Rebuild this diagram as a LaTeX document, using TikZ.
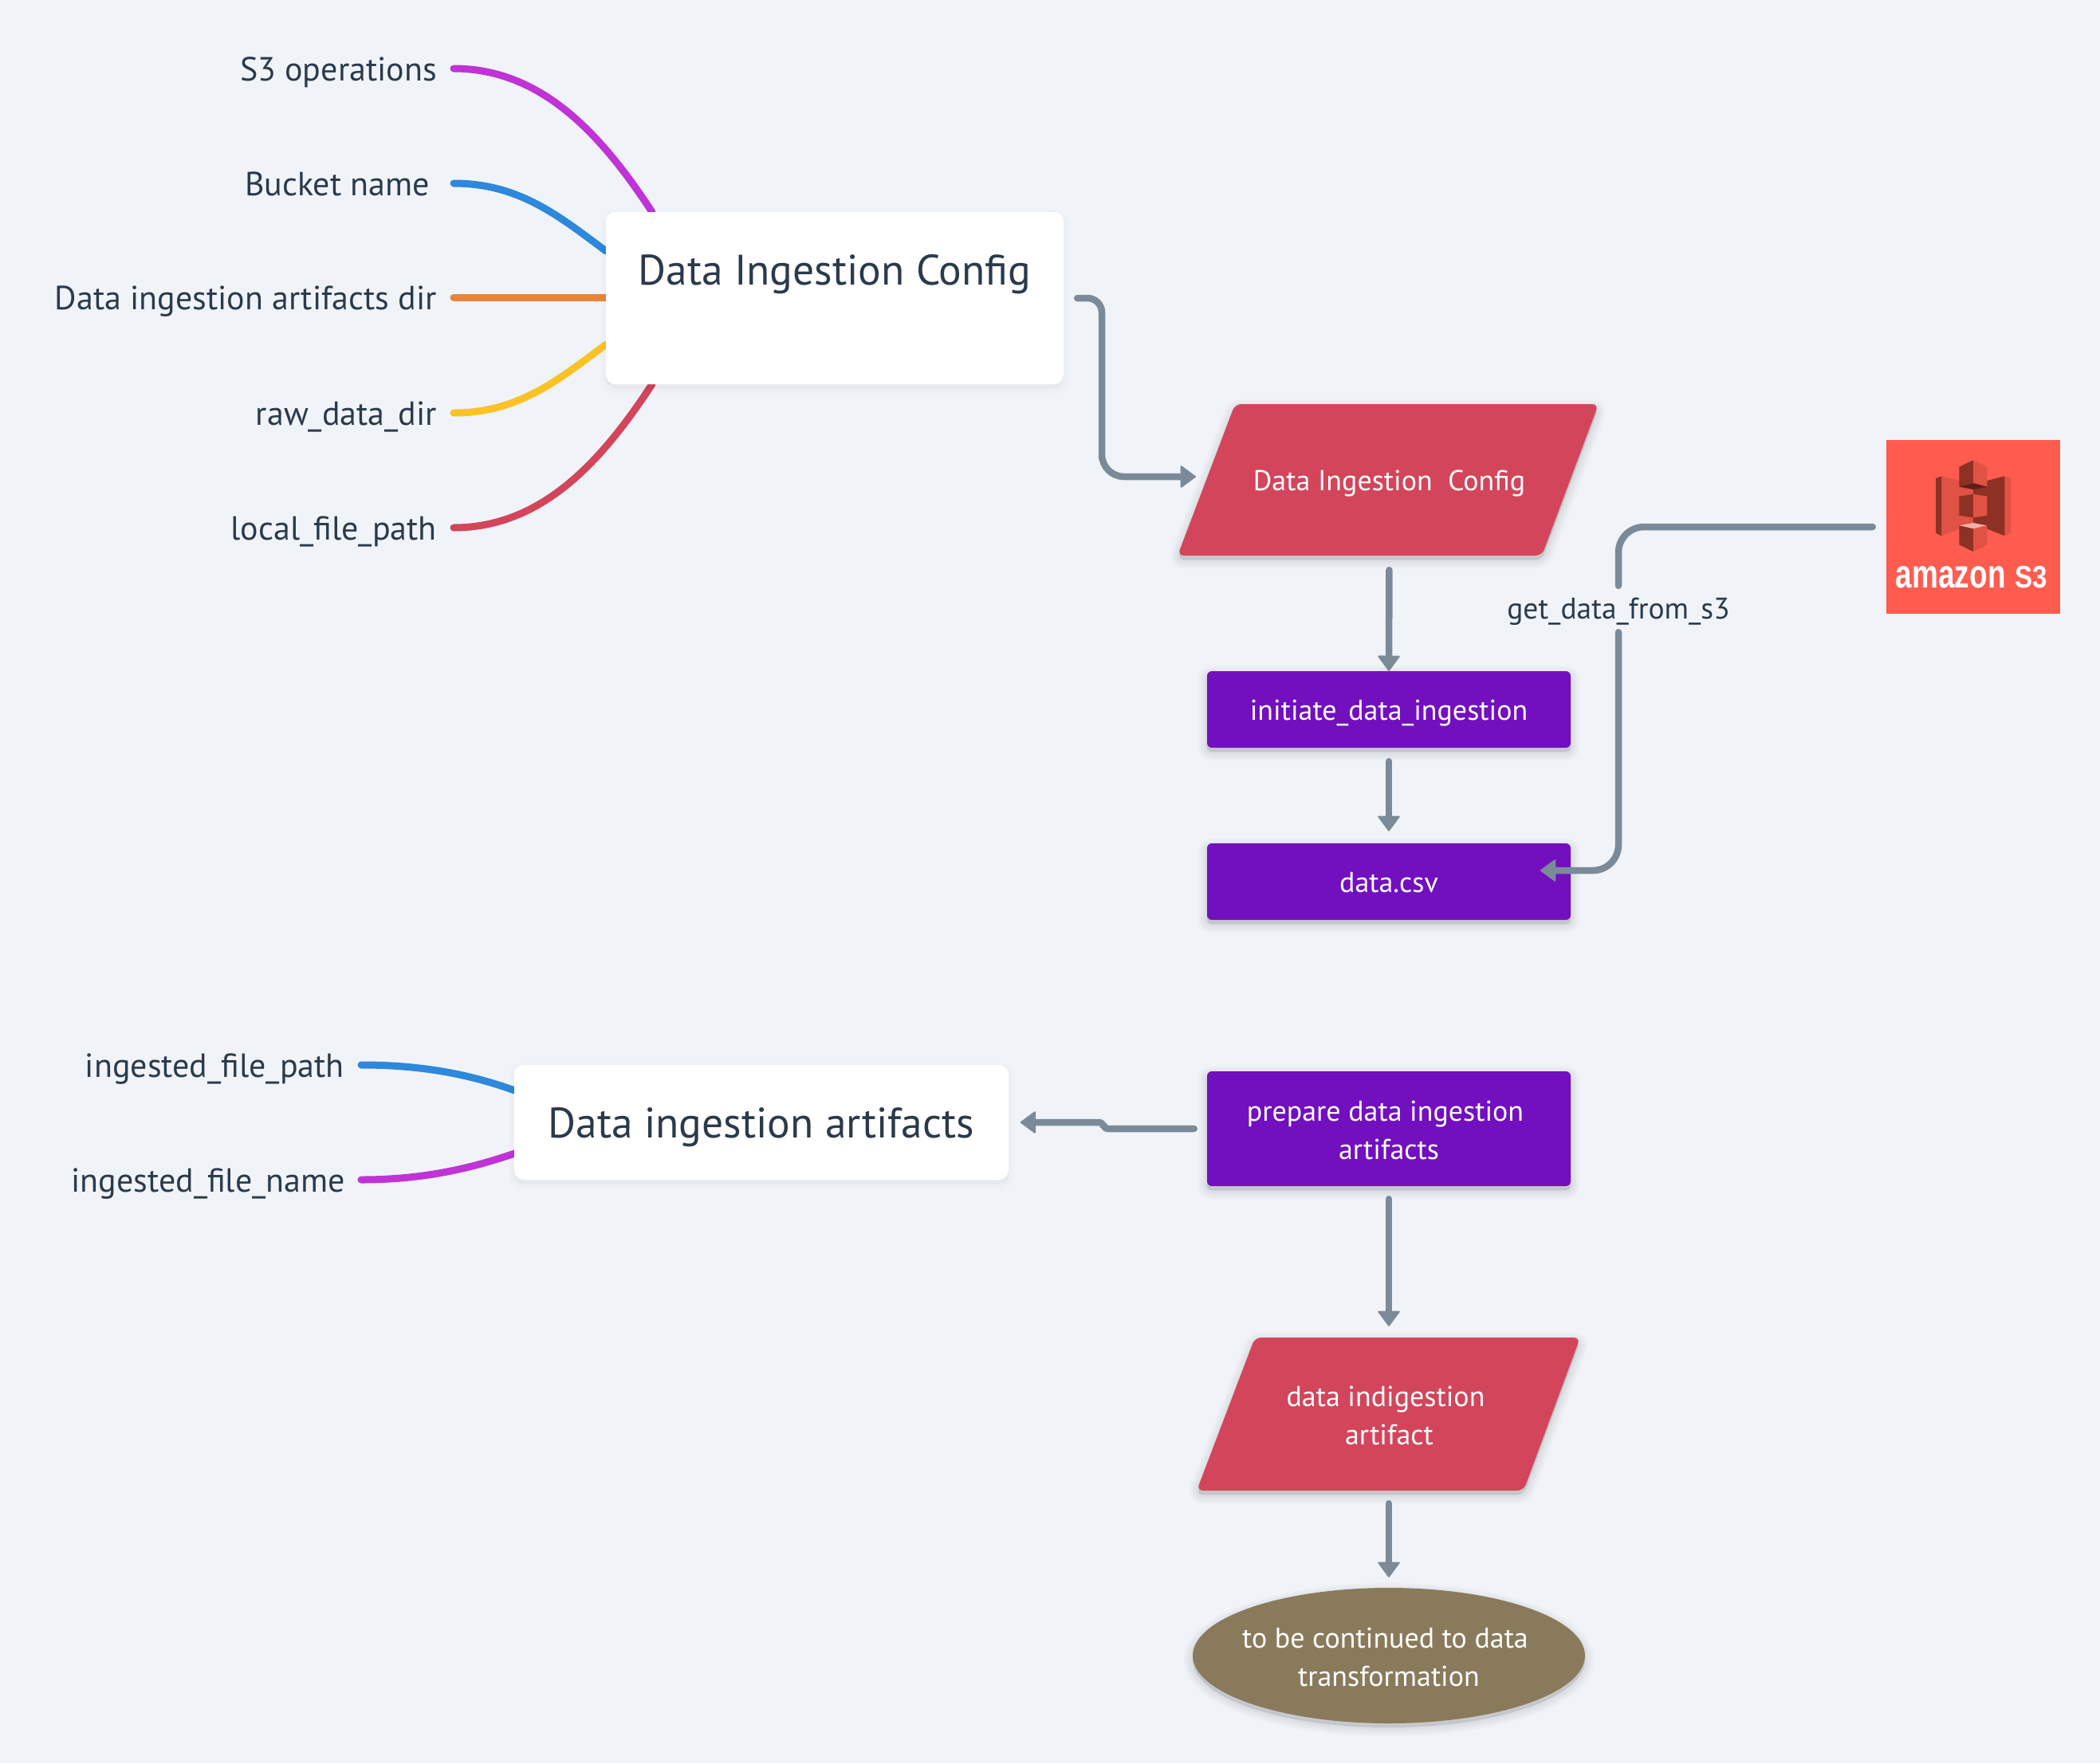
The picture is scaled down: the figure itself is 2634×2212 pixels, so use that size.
\documentclass[tikz,border=0pt]{standalone}
\usepackage{fontspec}
\usepackage{graphicx}
\setmainfont{PT Sans}
\usetikzlibrary{arrows.meta,shapes.geometric,calc}
\pgfdeclarelayer{bglayer}
\pgfdeclarelayer{branchlayer}
\pgfsetlayers{bglayer,branchlayer,main}
\definecolor{bgc}{HTML}{F0F4F8}
\definecolor{inkc}{HTML}{2B3A4B}
\definecolor{linec}{HTML}{7B8A99}
\definecolor{purpc}{HTML}{720FBF}
\definecolor{redc}{HTML}{D3455B}
\definecolor{brownc}{HTML}{8A7A5C}
\definecolor{s3c}{HTML}{FF5C50}
\definecolor{sDark}{HTML}{8C3123}
\definecolor{sLight}{HTML}{E05243}
\definecolor{sDeep}{HTML}{5E1F18}
\definecolor{sPale}{HTML}{F2B0A9}
\definecolor{mPurple}{HTML}{C033D6}
\definecolor{mBlue}{HTML}{2E88DC}
\definecolor{mOrange}{HTML}{E8853B}
\definecolor{mYellow}{HTML}{F9C328}
\tikzset{
  shadowlayer/.style n args={2}{preaction={draw=black,fill=black,opacity=#2,line width=#1,transform canvas={yshift=-5pt}}},
  softshadow/.style={shadowlayer={22pt}{.018},shadowlayer={17pt}{.018},shadowlayer={12pt}{.018},shadowlayer={7pt}{.018},shadowlayer={2pt}{.018}},
  faintshadow/.style={shadowlayer={16pt}{.007},shadowlayer={10pt}{.007},shadowlayer={4pt}{.007}},
  topicbox/.style={fill=white,rounded corners=12pt,inner sep=0pt,text=inkc,font=\fontsize{53.5}{60}\selectfont,faintshadow},
  leaflabel/.style={anchor=east,text=inkc,inner sep=0pt,text height=36pt,text depth=6pt,font=\fontsize{42}{46}\selectfont},
  procbox/.style={fill=purpc,rounded corners=6pt,inner sep=0pt,minimum width=456pt,text=white,align=center,font=\fontsize{36}{48}\selectfont,softshadow},
  oneline/.style={text height=33pt,text depth=6pt},
  ioshape/.style={fill=redc,rounded corners=8pt,softshadow},
  iotext/.style={inner sep=0pt,text=white,align=center,font=\fontsize{36}{48}\selectfont},
  endshape/.style={fill=brownc,softshadow},
  linklabel/.style={text=inkc,inner sep=0pt,text height=30pt,text depth=6pt,minimum height=58pt,font=\fontsize{37.5}{40}\selectfont},
  branch/.style={line width=9pt,line cap=round},
  flow/.style={line width=8.5pt,linec,line cap=round,rounded corners=32pt},
  flowtip/.style={flow,-{Triangle[width=29pt,length=20pt,line width=2pt,round]}},
}
\begin{document}
\begin{tikzpicture}[x=1pt,y=-1pt]
\useasboundingbox (0,0) rectangle (2634,2212);
\begin{pgfonlayer}{bglayer}
\fill[bgc] (0,0) rectangle (2634,2212);
\end{pgfonlayer}

% free ends of the branches
\coordinate (b1) at (569,86);
\coordinate (b2) at (569,230);
\coordinate (b3) at (569,373);
\coordinate (b4) at (569,518);
\coordinate (b5) at (569,662);
\coordinate (c1) at (453,1336);
\coordinate (c2) at (453,1480);

% labels
\node[leaflabel] (l1) at (548,86) {S3 operations};
\node[leaflabel] (l2) at (539,230) {Bucket name};
\node[leaflabel] (l3) at (548,373) {Data ingestion artifacts dir};
\node[leaflabel] (l4) at (548,518) {raw\_data\_dir};
\node[leaflabel] (l5) at (548,662) {local\_file\_path};
\node[leaflabel] (l6) at (432,1336) {ingested\_file\_path};
\node[leaflabel] (l7) at (433,1480) {ingested\_file\_name};

% topic boxes
\node[topicbox,minimum width=574pt,minimum height=216pt] (cfg) at (1047,374) {};
\node[inner sep=0pt,text=inkc,text height=41pt,text depth=6pt,font=\fontsize{53.5}{60}\selectfont] (cfgt) at (1047,340) {Data Ingestion Config};
\node[topicbox,minimum width=620pt,minimum height=144pt,text height=44pt,text depth=6pt] (art) at (955,1408) {Data ingestion artifacts};

% branches (run under the topic boxes)
\begin{pgfonlayer}{branchlayer}
\draw[branch,mPurple] (b1) .. controls (680,86) and (755,170) .. ($(cfg.north west)+(58,0)$);
\draw[branch,mBlue] (b2) .. controls (650,230) and (700,270) .. ($(cfg.north west)+(0,49)$);
\draw[branch,mOrange] (b3) -- (b3 -| cfg.west);
\draw[branch,mYellow] (b4) .. controls (650,518) and (700,477) .. ($(cfg.south west)+(0,-50)$);
\draw[branch,redc] (b5) .. controls (680,662) and (755,578) .. ($(cfg.south west)+(58,0)$);
\draw[branch,mBlue] (c1) .. controls (530,1336) and (590,1348) .. ($(art.north west)+(0,32)$);
\draw[branch,mPurple] (c2) .. controls (530,1480) and (590,1466) .. ($(art.south west)+(0,-33)$);
\end{pgfonlayer}

% flow shapes
\path[ioshape] (1549,507) -- (2005,507) -- (1934,697) -- (1477,697) -- cycle;
\node[iotext,oneline,minimum width=525pt,minimum height=190pt] (p1) at (1742.5,602) {Data Ingestion\ \ Config};
\node[procbox,oneline,minimum height=96pt] (init) at (1742,890) {initiate\_data\_ingestion};
\node[procbox,oneline,minimum height=96pt] (csv) at (1742,1106) {data.csv};
\node[procbox,minimum height=144pt] (prep) at (1742,1416) {\rule{0pt}{30pt}prepare data ingestion\kern9pt\\artifacts};
\path[ioshape] (1574,1678) -- (1982,1678) -- (1911,1870) -- (1501,1870) -- cycle;
\node[iotext,minimum width=477pt,minimum height=192pt] (p2) at (1742.5,1774) {\rule{0pt}{30pt}data indigestion\kern9pt\\artifact};
\path[endshape] (1742,2077) ellipse [x radius=246pt,y radius=85pt];
\node[iotext,minimum width=492pt,minimum height=170pt] (end) at (1742,2077) {\rule{0pt}{30pt}to be continued to data\kern9pt\\transformation};

% S3 tile
\node[fill=s3c,inner sep=0pt,minimum width=218pt,minimum height=218pt] (s3) at (2475,661) {};
\begin{scope}[shift={(2300,520)},x=0.3333pt,y=-0.3333pt]
  \fill[sLight] (406,232) -- (525,262) -- (525,410) -- (406,457) -- cycle;
  \fill[sDark] (525,262) -- (644,232) -- (644,457) -- (525,410) -- cycle;
  \fill[sDark] (384,240) -- (406,232) -- (406,457) -- (384,446) -- cycle;
  \fill[sLight] (644,232) -- (666,240) -- (666,446) -- (644,457) -- cycle;
  \fill[sDark] (472,197) -- (525,172) -- (525,258) -- (472,272) -- cycle;
  \fill[sLight] (525,172) -- (577,197) -- (577,272) -- (525,258) -- cycle;
  \fill[sDeep] (472,272) -- (525,258) -- (577,272) -- (525,282) -- cycle;
  \fill[sDark] (472,308) -- (525,300) -- (525,388) -- (472,380) -- cycle;
  \fill[sLight] (525,300) -- (577,308) -- (577,380) -- (525,388) -- cycle;
  \fill[sPale] (472,418) -- (525,408) -- (577,418) -- (525,430) -- cycle;
  \fill[sDark] (472,418) -- (525,430) -- (525,516) -- (472,490) -- cycle;
  \fill[sLight] (525,430) -- (577,418) -- (577,490) -- (525,516) -- cycle;
\end{scope}
\node[inner sep=0pt,text=white,font=\fontspec{Liberation Sans}\bfseries,anchor=base] (s3t) at (2473,737.5) {\scalebox{.74}[1]{\fontsize{50}{50}\selectfont amazon}\hspace{12pt}\scalebox{.85}[1]{\fontsize{39}{40}\selectfont S3}};

% link label
\node[linklabel] (lbl) at (2030,764) {get\_data\_from\_s3};

% connectors
\coordinate (a2) at (1500,598);
\coordinate (csvtip) at (1932,1092);
\draw[flowtip,shorten <=17pt] (cfg.east) [rounded corners=18pt] -- (1382,374) [rounded corners=28pt] -- (1382,598) -- (a2);
\draw[flowtip,shorten <=18pt] (p1.south) -- (init.north);
\draw[flowtip,shorten <=17pt,shorten >=15pt] (init.south) -- (csv.north);
\draw[flow,shorten <=17pt] (s3.west) -- (lbl.north |- s3.west) -- (lbl.north);
\draw[flowtip] (lbl.south) -- (lbl.south |- csvtip) -- (csvtip);
\draw[flowtip,rounded corners=6pt,shorten <=16pt,shorten >=14.5pt] (prep.west) -- (1384,1416) -- (1384,1408) -- (art.east);
\draw[flowtip,shorten <=16pt,shorten >=14pt] (prep.south) -- (prep.south |- p2.north);
\draw[flowtip,shorten <=16pt,shorten >=13pt] (p2.south -| end.north) -- (end.north);
\end{tikzpicture}
\end{document}
